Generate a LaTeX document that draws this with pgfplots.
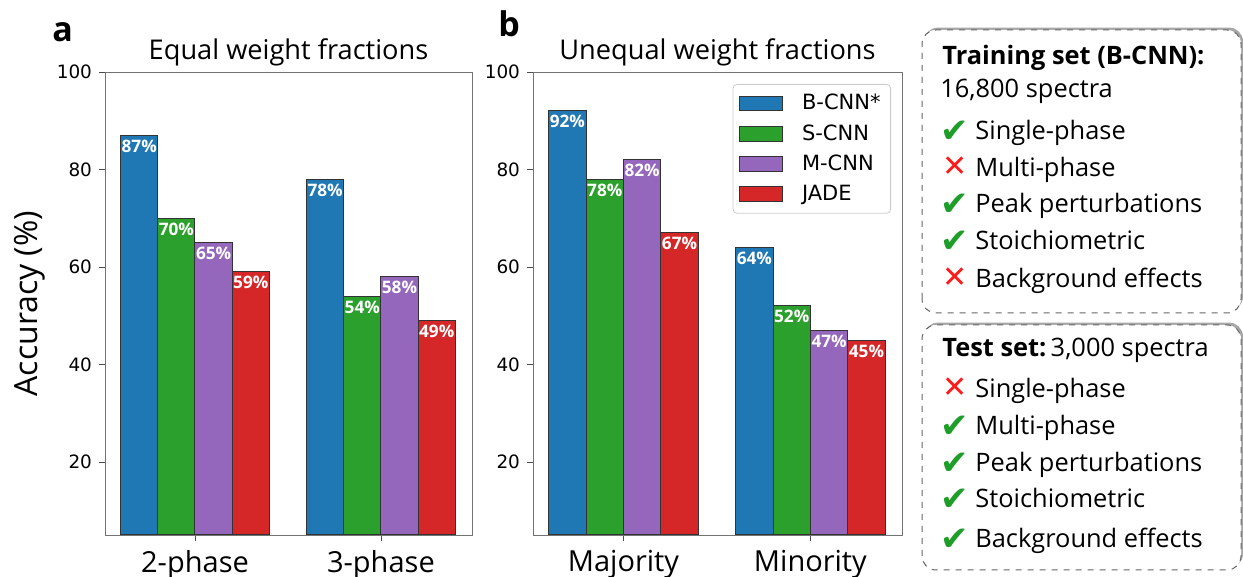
\documentclass[border=0pt]{standalone}
\usepackage{fontspec}
\usepackage{pgfplots}
\pgfplotsset{compat=1.18}
\usetikzlibrary{shadows}
\setmainfont{Open Sans}
\newfontfamily\dv{DejaVu Sans}

\definecolor{cblue}{HTML}{1F77B4}
\definecolor{cgreen}{HTML}{2CA02C}
\definecolor{cpurple}{HTML}{9467BD}
\definecolor{cred}{HTML}{D62728}
\definecolor{okgreen}{HTML}{1E9E28}
\definecolor{nored}{HTML}{FF1A1A}

\newcommand{\yes}{\raisebox{-1.5pt}{\dv\fontsize{17}{17}\selectfont\color{okgreen}✔}}
\newcommand{\no}{{\dv\fontsize{15}{15}\selectfont\color{nored}✕}}

\pgfplotsset{
  panel/.style={
    scale only axis, width=183.5pt, height=231.5pt,
    ybar=0pt, bar width=0.2,
    xmin=-0.484, xmax=1.49, ymin=5, ymax=100,
    xtick={0,1}, ytick={20,40,60,80,100},
    xtick pos=bottom, ytick pos=left, tick align=outside,
    major tick length=3pt,
    axis line style={black!55}, tick style={black!70},
    /pgf/number format/assume math mode=true,
    yticklabel style={font=\dv\fontsize{9.2}{10}\selectfont},
    xticklabel style={font=\fontsize{14.5}{16}\selectfont, yshift=-1pt},
    title style={font=\fontsize{13.6}{15}\selectfont, yshift=-6.5pt},
    nodes near coords={\pgfmathprintnumber{\pgfplotspointmeta}\%},
    every node near coord/.append style={anchor=north, text=white,
      font=\bfseries\fontsize{8.6}{9}\selectfont, inner sep=2pt},
    every axis plot/.append style={draw=black!80, line width=0.5pt},
    legend image code/.code={%
      \draw[#1, sharp corners] (0pt,-3.6pt) rectangle (21.5pt,3.6pt);
      \path (29pt,0pt);},
  }
}

\begin{document}
\begin{tikzpicture}
\path[use as bounding box] (0,0) rectangle (621.5pt,288.5pt);

% panel a
\begin{axis}[panel, at={(52.5pt,21pt)}, anchor=south west,
  xticklabels={2-phase,3-phase},
  title={Equal weight fractions},
  ylabel={Accuracy (\%)},
  ylabel style={font=\fontsize{16}{17}\selectfont, yshift=-1pt}]
\addplot[fill=cblue] coordinates {(0,87) (1,78)};
\addplot[fill=cgreen] coordinates {(0,70) (1,54)};
\addplot[fill=cpurple] coordinates {(0,65) (1,58)};
\addplot[fill=cred] coordinates {(0,59) (1,49)};
\end{axis}

% panel b
\begin{axis}[panel, at={(266.5pt,21pt)}, anchor=south west,
  width=184.5pt,
  xticklabels={Majority,Minority},
  title={Unequal weight fractions},
  legend cell align=left,
  legend style={at={(1,1)}, anchor=north east, xshift=-5.5pt, yshift=-6pt,
    draw=black!20, rounded corners=2pt, fill=white,
    font=\dv\fontsize{10.5}{12}\selectfont, row sep=1.8pt,
    inner sep=3pt}]
\addplot[fill=cblue] coordinates {(0,92) (1,64)};
\addlegendentry{B-CNN*}
\addplot[fill=cgreen] coordinates {(0,78) (1,52)};
\addlegendentry{S-CNN}
\addplot[fill=cpurple] coordinates {(0,82) (1,47)};
\addlegendentry{M-CNN}
\addplot[fill=cred] coordinates {(0,67) (1,45)};
\addlegendentry{JADE}
\end{axis}

% panel letters
\node[anchor=base west, inner sep=0pt, font=\bfseries\fontsize{17}{17}\selectfont] at (26pt,267.5pt) {a};
\node[anchor=base west, inner sep=0pt, font=\bfseries\fontsize{17}{17}\selectfont] at (249pt,270pt) {b};

% info boxes
\draw[black!60, dashed, rounded corners=7pt, line width=0.5pt,
  drop shadow={shadow xshift=1pt, shadow yshift=1.2pt, fill=black!35, opacity=1}, fill=white]
  (461pt,132pt) rectangle (620.5pt,273.5pt);
\draw[black!60, dashed, rounded corners=7pt, line width=0.5pt,
  drop shadow={shadow xshift=1pt, shadow yshift=1.2pt, fill=black!35, opacity=1}, fill=white]
  (461pt,3.5pt) rectangle (620.5pt,126pt);

\begin{scope}[every node/.style={anchor=base west, inner sep=0pt, font=\fontsize{12.7}{14}\selectfont}]
\node at (471pt,256pt) {\bfseries Training set (B-CNN):};
\node at (470pt,239.5pt) {16,800 spectra};
\node at (470pt,218.5pt) {\yes}; \node at (487.5pt,218.5pt) {Single-phase};
\node at (471pt,200pt) {\no};   \node at (487.5pt,200pt) {Multi-phase};
\node at (470pt,182pt) {\yes};  \node at (487.5pt,182pt) {Peak perturbations};
\node at (470pt,163.5pt) {\yes}; \node at (487.5pt,163.5pt) {Stoichiometric};
\node at (471pt,144.5pt) {\no};  \node at (487.5pt,144.5pt) {Background effects};

\node at (471pt,110pt) {\textbf{Test set:}\,3,000 spectra};
\node at (471pt,89.5pt) {\no};  \node at (487.5pt,89.5pt) {Single-phase};
\node at (470pt,71pt) {\yes};   \node at (487.5pt,71pt) {Multi-phase};
\node at (470pt,52.5pt) {\yes}; \node at (487.5pt,52.5pt) {Peak perturbations};
\node at (470pt,34.5pt) {\yes}; \node at (487.5pt,34.5pt) {Stoichiometric};
\node at (470pt,14.5pt) {\yes}; \node at (487.5pt,14.5pt) {Background effects};
\end{scope}
\end{tikzpicture}
\end{document}
